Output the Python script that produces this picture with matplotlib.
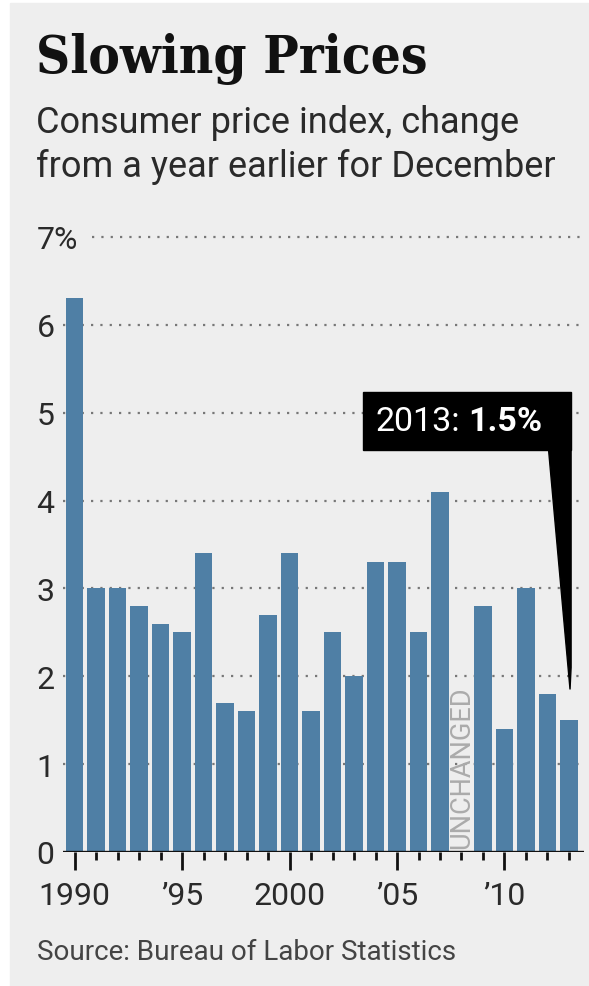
import matplotlib
matplotlib.use("Agg")
import matplotlib.pyplot as plt
from matplotlib.patches import Rectangle, Polygon

# December-over-December change in the consumer price index, percent
years = list(range(1990, 2014))
cpi_change = [6.3, 3.0, 3.0, 2.8, 2.6, 2.5, 3.4, 1.7, 1.6, 2.7, 3.4, 1.6,
              2.5, 2.0, 3.3, 3.3, 2.5, 4.1, 0.0, 2.8, 1.4, 3.0, 1.8, 1.5]
year_ticks = [1990, 1995, 2000, 2005, 2010]
year_labels = ["1990", "\u201995", "2000", "\u201905", "\u201910"]
pct_ticks = [0, 1, 2, 3, 4, 5, 6, 7]
pct_labels = ["0", "1", "2", "3", "4", "5", "6", "7%"]

sans = "Roboto"
serif = "DejaVu Serif"

W, H = 589, 987
fig = plt.figure(figsize=(W / 100, H / 100), dpi=100, facecolor="white")

# gray panel behind everything
bg = "#eeeeee"
fig.patches.append(Rectangle((10 / W, 0), 1 - 10 / W, 1 - 4 / H,
                             transform=fig.transFigure, color=bg, zorder=-10))

ax_left, ax_right = 63, 584
ax_bottom = H - 853
ymax = 7.2
px_per_unit = 87.86
ax = fig.add_axes([ax_left / W, ax_bottom / H, (ax_right - ax_left) / W,
                   ymax * px_per_unit / H])
ax.set_facecolor("none")
for s in ax.spines.values():
    s.set_visible(False)

bar_color = "#4f7fa5"
ax.bar(years, cpi_change, width=0.82, color=bar_color, zorder=2)
ax.set_xlim(1989.46, 2013.7)
ax.set_ylim(0, ymax)

# dotted gridlines
for v in pct_ticks[1:]:
    start = 0.055 if v == 7 else 0.0
    ax.axhline(v, xmin=start, xmax=1.0, color="#777777", lw=1.6,
               ls=(0, (1, 3.2)), zorder=1)
ax.axhline(0, color="#111111", lw=2.4, zorder=3)

# y tick labels, left aligned
ax.set_yticks(pct_ticks)
ax.set_yticklabels(pct_labels, fontsize=23, color="#2a2a2a", family=sans)
ax.tick_params(axis="y", length=0, pad=19)
for lab in ax.get_yticklabels():
    lab.set_horizontalalignment("left")

# x ticks: every year minor, every five major
ax.set_xticks(year_ticks)
ax.set_xticklabels(year_labels, fontsize=23, color="#2a2a2a", family=sans)
ax.set_xticks(years, minor=True)
ax.tick_params(axis="x", which="major", length=13, width=2.0, color="#111111",
               pad=8, direction="out")
ax.tick_params(axis="x", which="minor", length=6, width=2.0, color="#111111",
               direction="out")

# label for the zero-change year
ax.text(2008, 0.04, "UNCHANGED", rotation=90, ha="center", va="bottom",
        fontsize=19.5, color="#ababab", family=sans, zorder=4)

# callout for the latest reading
last_year, last_val = years[-1], cpi_change[-1]
box_x0, box_x1 = 2003.42, 2013.08
box_y0, box_y1 = 4.57, 5.23
ax.add_patch(Rectangle((box_x0, box_y0), box_x1 - box_x0, box_y1 - box_y0,
                       color="black", zorder=5, clip_on=False))
ax.add_patch(Polygon([(last_year - 0.95, box_y0 + 0.01), (last_year + 0.1, box_y0 + 0.01),
                      (last_year + 0.1, last_val + 0.6), (last_year + 0.05, last_val + 0.35)],
                     closed=True, color="black", zorder=5, clip_on=False))
ymid = (box_y0 + box_y1) / 2
t1 = ax.text(2004.0, ymid, "2013:", color="white", fontsize=24.5,
             family=sans, va="center", ha="left", zorder=6)
fig.canvas.draw()
bb = t1.get_window_extent()
x_after = ax.transData.inverted().transform((bb.x1 + 8, bb.y0))[0]
ax.text(x_after, ymid, f"{last_val}%", color="white",
        fontsize=24.5, family=sans, fontweight="bold", va="center", ha="left", zorder=6)

# titles and source
fig.text(36 / W, 1 - 73 / H, "Slowing Prices", fontsize=38, fontweight="bold",
         family=serif, fontstretch="condensed", color="#111111",
         ha="left", va="baseline")
fig.text(36 / W, 1 - 133 / H, "Consumer price index, change", fontsize=26,
         family=sans, color="#2a2a2a", ha="left", va="baseline")
fig.text(36 / W, 1 - 177 / H, "from a year earlier for December", fontsize=26,
         family=sans, color="#2a2a2a", ha="left", va="baseline")
fig.text(37 / W, 1 - 960 / H, "Source: Bureau of Labor Statistics", fontsize=20,
         family=sans, color="#444444", ha="left", va="baseline")

fig.savefig("out.png", dpi=100, facecolor="white")
